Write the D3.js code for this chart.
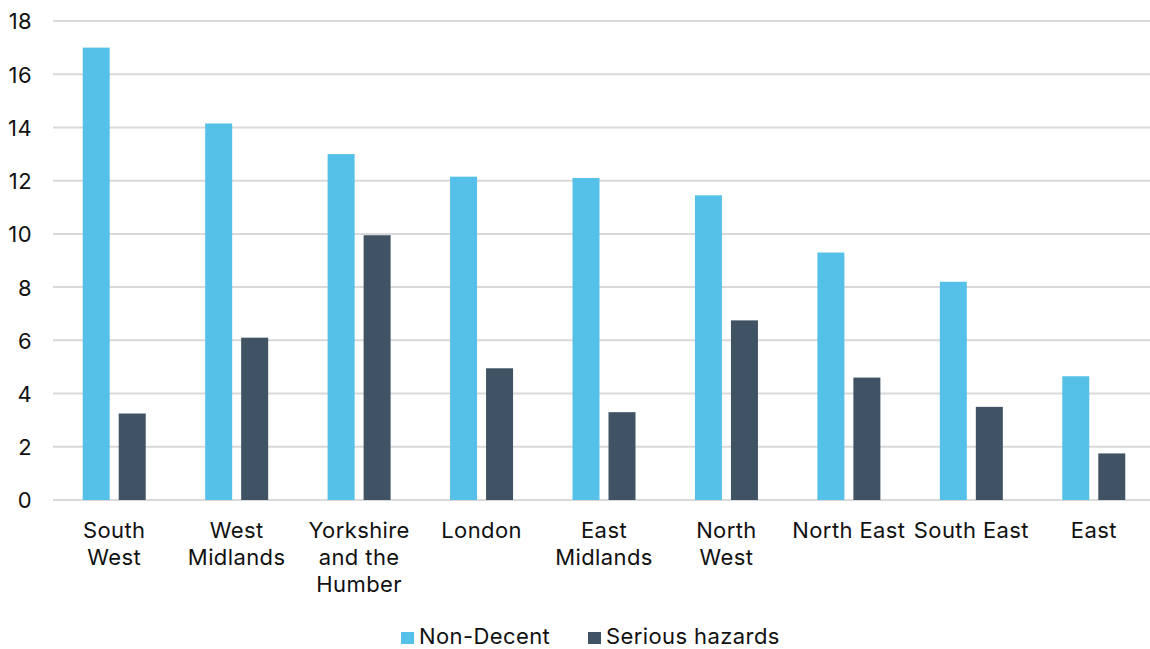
<!DOCTYPE html>
<html>
<head>
<meta charset="utf-8">
<script src="https://cdn.jsdelivr.net/npm/d3@7"></script>
<style>
  body { margin: 0; background: #fff; overflow: hidden; }
  text { font-family: Inter, "Noto Sans", sans-serif; fill: #111; letter-spacing: 0.4px; }
</style>
</head>
<body>
<div id="chart"></div>
<script>
// chart values
var regions = ["South West", "West Midlands", "Yorkshire and the Humber", "London", "East Midlands",
               "North West", "North East", "South East", "East"];
var regionLines = [["South", "West"], ["West", "Midlands"], ["Yorkshire", "and the", "Humber"], ["London"],
                   ["East", "Midlands"], ["North", "West"], ["North East"], ["South East"], ["East"]];
var nonDecent = [17.0, 14.15, 13.0, 12.15, 12.1, 11.45, 9.3, 8.2, 4.65];
var seriousHazards = [3.25, 6.1, 9.95, 4.95, 3.3, 6.75, 4.6, 3.5, 1.75];
var seriesNames = ["Non-Decent", "Serious hazards"];
var seriesColors = ["#56C1E8", "#3F5364"];
var yTicks = [0, 2, 4, 6, 8, 10, 12, 14, 16, 18];

var svgWidth = 1150;
var svgHeight = 649;

// plot area runs a little past the right edge, as in the original
var margin = { top: 21, right: -5, bottom: 149, left: 53 };
var width = svgWidth - margin.left - margin.right;
var height = svgHeight - margin.top - margin.bottom;

var svg = d3.select("#chart")
  .append("svg")
  .attr("width", svgWidth)
  .attr("height", svgHeight);

var chartGroup = svg.append("g")
  .attr("transform", `translate(${margin.left}, ${margin.top})`);

var data = regions.map(function(r, i) {
  return { region: r, lines: regionLines[i], values: [nonDecent[i], seriousHazards[i]] };
});

// scales
var x0 = d3.scaleBand().domain(regions).range([0, width]).padding(0);
var x1 = d3.scaleBand().domain(seriesNames).range([0, 63]).paddingInner(0.25);
var y = d3.scaleLinear().domain([0, 18]).range([height, 0]);

// gridlines
chartGroup.append("g")
  .selectAll("line")
  .data(yTicks)
  .enter()
  .append("line")
  .attr("x1", 0)
  .attr("x2", width)
  .attr("y1", d => y(d))
  .attr("y2", d => y(d))
  .attr("stroke", "#d9d9d9")
  .attr("stroke-width", 2);

// y axis labels
var leftAxis = d3.axisLeft(y).tickValues(yTicks).tickSize(0).tickPadding(21);
var yAxisG = chartGroup.append("g").call(leftAxis);
yAxisG.select(".domain").remove();
yAxisG.selectAll("text")
  .style("font-family", "Inter, sans-serif")
  .style("font-size", "22px")
  .attr("fill", "#111")
  .attr("dy", "0.36em");

// bars
var groups = chartGroup.selectAll(".region")
  .data(data)
  .enter()
  .append("g")
  .attr("transform", d => `translate(${x0(d.region) + (x0.bandwidth() - 63) / 2}, 0)`);

groups.selectAll("rect")
  .data(d => d.values.map((v, i) => ({ key: seriesNames[i], value: v, color: seriesColors[i] })))
  .enter()
  .append("rect")
  .attr("x", d => x1(d.key))
  .attr("y", d => y(d.value))
  .attr("width", x1.bandwidth())
  .attr("height", d => height - y(d.value))
  .attr("fill", d => d.color);

// category labels
var labels = chartGroup.append("g")
  .selectAll("text")
  .data(data)
  .enter()
  .append("text")
  .attr("text-anchor", "middle")
  .style("font-size", "22px")
  .attr("transform", d => `translate(${x0(d.region) + x0.bandwidth() / 2}, ${height + 38})`);

labels.selectAll("tspan")
  .data(d => d.lines)
  .enter()
  .append("tspan")
  .attr("x", 0)
  .attr("y", (d, i) => i * 27)
  .text(d => d);

// legend
var legend = svg.append("g").attr("transform", "translate(401, 632)");
var legendX = [0, 187];
seriesNames.forEach(function(name, i) {
  var item = legend.append("g").attr("transform", `translate(${legendX[i]}, 0)`);
  item.append("rect").attr("width", 13).attr("height", 12).attr("fill", seriesColors[i]);
  item.append("text").attr("x", 18).attr("y", 12).style("font-size", "22px").text(name);
});
</script>
</body>
</html>
